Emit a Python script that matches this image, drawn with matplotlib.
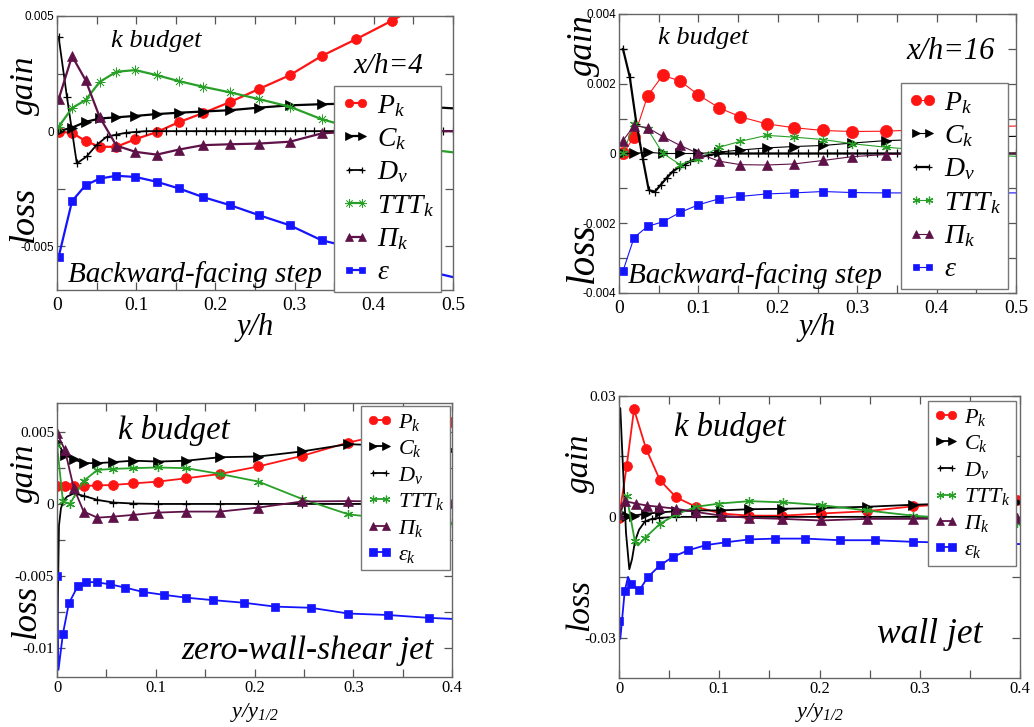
import matplotlib
matplotlib.use('Agg')
import matplotlib.pyplot as plt

plt.rcParams['font.family'] = 'Liberation Serif'
plt.rcParams['mathtext.fontset'] = 'custom'
# italic everywhere in math, so that Pi and the 1/2 come out slanted as in the original
plt.rcParams['mathtext.rm'] = 'Liberation Serif:italic'
plt.rcParams['mathtext.it'] = 'Liberation Serif:italic'
plt.rcParams['mathtext.bf'] = 'Liberation Serif:bold'

RED = '#ff1414'
GREEN = '#28a028'
PURPLE = '#5e1248'
BLUE = '#1414ff'
STAR = (6, 2, 0)

labels_top = ['$P_k$', '$C_k$', r'$D_\nu$', '$TTT_k$', r'$\Pi_k$', r'$\varepsilon$']
labels_bot = ['$P_k$', '$C_k$', r'$D_\nu$', '$TTT_k$', r'$\Pi_k$', r'$\varepsilon_k$']

# ---- backward-facing step, x/h=4
x1 = [0.002, 0.019, 0.036, 0.054, 0.075, 0.099, 0.126, 0.154, 0.184, 0.219, 0.255, 0.294, 0.334, 0.378, 0.423, 0.47, 0.52]
p1_pk = [-0.00003, -0.00007, -0.00043, -0.00068, -0.00068, -0.00035, -0.00004, 0.00039, 0.00078, 0.00127, 0.00183, 0.00243, 0.00326, 0.0040, 0.0048, 0.0057, 0.0066]
p1_ck = [0.0, 0.00015, 0.0004, 0.00055, 0.0006, 0.00066, 0.00074, 0.0008, 0.00085, 0.00091, 0.00102, 0.00112, 0.00117, 0.0012, 0.00115, 0.00105, 0.00095]
p1_ttt = [0.00019, 0.001, 0.00135, 0.00214, 0.00258, 0.00265, 0.00243, 0.00217, 0.00193, 0.00168, 0.00139, 0.00106, 0.00052, 0.0001, -0.0004, -0.0008, -0.001]
p1_pi = [0.00138, 0.00326, 0.00222, 0.0006, -0.00063, -0.0009, -0.00102, -0.0008, -0.00061, -0.00057, -0.00054, -0.00046, -0.0001, 0.0, 0.0, 0.0, 0.0]
p1_eps = [-0.00547, -0.00304, -0.00235, -0.00206, -0.00194, -0.00199, -0.0022, -0.00249, -0.00286, -0.00322, -0.00365, -0.00409, -0.00474, -0.0051, -0.0056, -0.0061, -0.0065]
x1_dv = [0.002, 0.0125, 0.025, 0.0375, 0.05, 0.0625, 0.075, 0.0875, 0.1, 0.1125, 0.125, 0.1375, 0.15, 0.1625,
         0.175, 0.1875, 0.2, 0.2125, 0.225, 0.2375, 0.25, 0.2625, 0.275, 0.2875, 0.3, 0.3125, 0.325, 0.3375,
         0.35, 0.3625, 0.375, 0.3875, 0.4, 0.4125, 0.425, 0.4375, 0.45, 0.4625, 0.475, 0.4875, 0.5]
p1_dv = [0.0041, 0.0015, -0.0014, -0.0011, -0.0006, -0.00025, -0.00015, -0.00007, -0.00003, 0.0, 0.0, 0.0, 0.0, 0.0,
         0.0, 0.0, 0.0, 0.0, 0.0, 0.0, 0.0, 0.0, 0.0, 0.0, 0.0, 0.0, 0.0, 0.0,
         0.0, 0.0, 0.0, 0.0, 0.0, 0.0, 0.0, 0.0, 0.0, 0.0, 0.0, 0.0, 0.0]

# ---- backward-facing step, x/h=16
x2 = [0.005, 0.019, 0.036, 0.055, 0.077, 0.1, 0.126, 0.153, 0.186, 0.22, 0.257, 0.294, 0.336, 0.38, 0.425, 0.47, 0.52]
p2_pk = [0.0, 0.00047, 0.00165, 0.00224, 0.00208, 0.00168, 0.00131, 0.00105, 0.00085, 0.00074, 0.00066, 0.00063, 0.00064, 0.00068, 0.00072, 0.00077, 0.0008]
p2_ck = [0.0, 0.0, 0.00004, 0.0, 0.0, 0.0, 0.00004, 0.0001, 0.00016, 0.0002, 0.00023, 0.0003, 0.00037, 0.0004, 0.00044, 0.00048, 0.0005]
p2_ttt = [0.0, 0.00085, 0.0007, 0.00001, -0.00032, -0.00015, 0.00018, 0.00035, 0.00052, 0.00047, 0.0004, 0.00028, 0.00018, 0.0001, 0.00003, -0.00005, -0.0001]
p2_pi = [0.00037, 0.0008, 0.00074, 0.00049, 0.00023, 0.0, -0.00022, -0.00032, -0.00033, -0.0003, -0.0002, -0.00009, -0.00003, 0.0, 0.0, 0.0, 0.0]
p2_eps = [-0.00337, -0.00241, -0.00209, -0.00196, -0.00169, -0.00147, -0.0013, -0.00123, -0.00116, -0.00113, -0.00109, -0.00112, -0.00113, -0.00113, -0.00113, -0.00113, -0.00113]
x2_dv = [0.005, 0.0135, 0.022, 0.03, 0.0375, 0.045, 0.0525, 0.06, 0.0675, 0.075, 0.0825, 0.09, 0.1, 0.1125,
         0.125, 0.1375, 0.15, 0.1625, 0.175, 0.1875, 0.2, 0.2125, 0.225, 0.2375, 0.25, 0.2625, 0.275, 0.2875,
         0.3, 0.3125, 0.325, 0.3375, 0.35, 0.3625, 0.375, 0.3875, 0.4, 0.4125, 0.425, 0.4375, 0.45, 0.4625,
         0.475, 0.4875, 0.5]
p2_dv = [0.003, 0.0022, 0.00085, -0.00015, -0.00105, -0.0011, -0.0009, -0.0007, -0.00052, -0.0004, -0.00032, -0.00022, -0.00012, -0.00005,
         0.0, 0.0, 0.0, 0.0, 0.0, 0.0, 0.0, 0.0, 0.0, 0.0, 0.0, 0.0, 0.0, 0.0,
         0.0, 0.0, 0.0, 0.0, 0.0, 0.0, 0.0, 0.0, 0.0, 0.0, 0.0, 0.0, 0.0, 0.0,
         0.0, 0.0, 0.0]

# ---- zero-wall-shear jet
x3 = [0.0, 0.008, 0.017, 0.027, 0.041, 0.057, 0.077, 0.102, 0.131, 0.165, 0.204, 0.248, 0.295, 0.345, 0.398]
p3_pk = [0.00125, 0.00125, 0.00125, 0.00125, 0.00128, 0.00132, 0.00142, 0.00155, 0.00178, 0.00208, 0.0026, 0.00333, 0.00426, 0.005, 0.00565]
p3_ck = [0.0043, 0.0034, 0.0031, 0.00283, 0.00283, 0.0029, 0.003, 0.00294, 0.003, 0.00324, 0.00329, 0.00364, 0.00415, 0.004, 0.00375]
p3_pi = [0.0049, 0.00375, 0.0011, -0.00053, -0.00095, -0.00088, -0.00076, -0.0006, -0.00053, -0.00053, -0.00025, 0.00017, 0.0002, 0.00015, 0.0001]
x3_ttt = [0.0, 0.006, 0.013, 0.027, 0.041, 0.057, 0.077, 0.102, 0.131, 0.165, 0.204, 0.248, 0.295, 0.345, 0.398]
p3_ttt = [0.0041, 0.00017, 0.0, 0.0016, 0.00236, 0.00243, 0.00248, 0.00253, 0.00248, 0.00208, 0.00155, 0.00035, -0.00072, -0.0011, -0.00129]
x3_dv = [0.0, 0.001, 0.002, 0.004, 0.0064, 0.01, 0.017, 0.027, 0.041, 0.057, 0.077, 0.102, 0.131, 0.165, 0.204, 0.248, 0.295, 0.345, 0.398]
p3_dv = [-0.0115, -0.006, -0.0015, -0.0003, 0.00017, 0.0005, 0.00074, 0.00056, 0.00028, 0.0001, 0.00003, 0.0, 0.0, 0.0, 0.0, 0.0, 0.0, 0.0, 0.0]
x3_eps = [0.0, 0.0015, 0.006, 0.012, 0.021, 0.029, 0.041, 0.054, 0.069, 0.087, 0.108, 0.131, 0.158, 0.189, 0.221, 0.257, 0.295, 0.335, 0.377, 0.41]
p3_eps = [-0.005, -0.0115, -0.009, -0.0069, -0.0057, -0.0054, -0.00544, -0.00558, -0.0058, -0.0061, -0.0063, -0.0065, -0.00667, -0.00685, -0.00712, -0.0072, -0.0076, -0.0077, -0.0079, -0.008]

# ---- wall jet
x4 = [0.0, 0.0077, 0.015, 0.027, 0.041, 0.057, 0.077, 0.102, 0.13, 0.163, 0.201, 0.247, 0.293, 0.345, 0.397]
p4_pk = [-0.00025, 0.0127, 0.0267, 0.0169, 0.00905, 0.00485, 0.00247, 0.00082, 0.0003, 0.0003, 0.00082, 0.0014, 0.0026, 0.0034, 0.0041]
p4_ck = [0.0, 0.00015, 0.0003, 0.0008, 0.0011, 0.0014, 0.0016, 0.0016, 0.0019, 0.002, 0.0022, 0.0025, 0.003, 0.0034, 0.0037]
x4_pi = [0.0, 0.006, 0.017, 0.028, 0.04, 0.057, 0.077, 0.102, 0.13, 0.163, 0.201, 0.247, 0.293, 0.345, 0.397]
p4_pi = [0.0006, 0.0039, 0.0033, 0.0028, 0.0025, 0.002, 0.0012, 0.0003, -0.00025, -0.0005, -0.0009, -0.0005, -0.0005, -0.0004, -0.00025]
x4_ttt = [0.0, 0.0077, 0.0157, 0.019, 0.026, 0.041, 0.057, 0.077, 0.1, 0.13, 0.164, 0.202, 0.247, 0.293, 0.345, 0.397]
p4_ttt = [0.0, 0.0051, -0.0059, -0.0071, -0.0052, -0.0017, 0.0006, 0.0025, 0.0033, 0.0039, 0.0036, 0.0029, 0.0016, 0.0003, -0.0006, -0.0015]
x4_dv = [0.0, 0.0013, 0.004, 0.007, 0.0103, 0.013, 0.016, 0.02, 0.026, 0.033, 0.04, 0.057, 0.077, 0.102, 0.13, 0.163, 0.201, 0.247, 0.293, 0.345, 0.397]
p4_dv = [0.024, 0.027, 0.012, -0.004, -0.013, -0.0105, -0.006, -0.0032, -0.0011, -0.0005, -0.00025, 0.0, 0.0, 0.0, 0.0, 0.0, 0.0, 0.0, 0.0, 0.0, 0.0]
x4_eps = [0.0, 0.0013, 0.0057, 0.009, 0.0123, 0.0203, 0.029, 0.041, 0.054, 0.069, 0.087, 0.107, 0.13, 0.156, 0.186, 0.22, 0.255, 0.293, 0.345, 0.41]
p4_eps = [-0.0258, -0.0303, -0.0184, -0.0149, -0.0167, -0.0182, -0.0149, -0.012, -0.0099, -0.0083, -0.007, -0.0063, -0.0056, -0.0054, -0.0054, -0.0058, -0.0058, -0.0062, -0.0065, -0.0068]

xt_top = [0, 0.1, 0.2, 0.3, 0.4, 0.5]
xt_top_lab = ['0', '0.1', '0.2', '0.3', '0.4', '0.5']
xt_bot = [0, 0.1, 0.2, 0.3, 0.4]
xt_bot_lab = ['0', '0.1', '0.2', '0.3', '0.4']
yt1 = [-0.005, 0, 0.005]
yt1_lab = ['-0.005', '0', '0.005']
yt2 = [-0.004, -0.002, 0, 0.002, 0.004]
yt2_lab = ['-0.004', '-0.002', '0', '0.002', '0.004']
yt3 = [-0.01, -0.005, 0, 0.005]
yt3_lab = ['-0.01', '-0.005', '0', '0.005']
yt4 = [-0.03, 0, 0.03]
yt4_lab = ['-0.03', '0', '0.03']

fig = plt.figure(figsize=(10.34, 7.27), dpi=100)
W, H = 1034.0, 727.0


def axes_px(l, t, r, b):
    return fig.add_axes([l / W, 1 - b / H, (r - l) / W, (b - t) / H])


def draw(ax, series, labels, lw, ms):
    hs = []
    for (x, y, col, mk, every, lwk, msk), lab in zip(series, labels):
        mew = 0.9 if mk in ('+', STAR) else 0.5
        h, = ax.plot(x, y, color=col, marker=mk, lw=lw * lwk, ms=ms * msk, mew=mew,
                     markevery=every, mec=col, mfc=col, label=lab)
        hs.append(h)
    return hs


def style(ax, xlim, ylim, xt, xtl, yt, ytl, xminor, yminor, xfs, yfs, yfam, xpad):
    ax.set_xlim(*xlim)
    ax.set_ylim(*ylim)
    ax.set_xticks(xt, labels=xtl)
    ax.set_yticks(yt, labels=ytl)
    ax.xaxis.set_minor_locator(matplotlib.ticker.MultipleLocator(xminor))
    ax.yaxis.set_minor_locator(matplotlib.ticker.MultipleLocator(yminor))
    ax.tick_params(which='both', direction='in', top=True, right=True, color='#555555')
    ax.tick_params(which='both', length=6, width=0.9)
    ax.tick_params(axis='x', labelsize=xfs, pad=xpad)
    ax.tick_params(axis='y', labelsize=yfs, pad=2, labelfontfamily=yfam)
    for s in ax.spines.values():
        s.set_color('#666666')
        s.set_linewidth(1.0)


def legend(ax, hs, labels, anchor, fs, spacing, hl):
    lg = ax.legend(hs, labels, loc='upper left', bbox_to_anchor=anchor, numpoints=2, fontsize=fs,
                   frameon=True, fancybox=False, framealpha=1, edgecolor='#777777',
                   handlelength=hl, handletextpad=0.25, labelspacing=spacing, borderpad=0.25,
                   borderaxespad=0, markerscale=0.85)
    lg.get_frame().set_linewidth(1.0)
    lg.set_zorder(10)


def label(x, y, s, fs, rot=0):
    fig.text(x / W, 1 - y / H, s, rotation=rot, fontsize=fs, style='italic', ha='center', va='center')


# panel 1
ax1 = axes_px(57, 16, 453, 290)
s1 = [(x1, p1_pk, RED, 'o', None, 1, 1.1), (x1, p1_ck, 'black', '>', None, 1, 1.0),
      (x1_dv, p1_dv, 'black', '+', None, 0.8, 0.9), (x1, p1_ttt, GREEN, (8, 2, 0), None, 1, 1.1),
      (x1, p1_pi, PURPLE, '^', None, 1, 1.0), (x1, p1_eps, BLUE, 's', None, 1, 0.9)]
h1 = draw(ax1, s1, labels_top, 1.6, 6.5)
style(ax1, (0, 0.5), (-0.0069, 0.005), xt_top, xt_top_lab, yt1, yt1_lab, 0.05, 0.0025, 14, 8.5, 'Liberation Sans', 5)
legend(ax1, h1, labels_top, (0.70, 0.745), 20, 0.27, 1.05)
ax1.text(0.25, 0.91, 'k budget', transform=ax1.transAxes, fontsize=19, style='italic', ha='center', va='center')
ax1.text(0.836, 0.818, 'x/h=4', transform=ax1.transAxes, fontsize=21, style='italic', ha='center', va='center')
ax1.text(0.348, 0.055, 'Backward-facing step', transform=ax1.transAxes, fontsize=21, style='italic', ha='center', va='center')
label(25, 85, 'gain', 24, 90)
label(25, 215, 'loss', 26, 90)
label(255, 328, 'y/h', 22)

# panel 2
ax2 = axes_px(619, 14, 1016, 293)
s2 = [(x2, p2_pk, RED, 'o', None, 1, 1.35), (x2, p2_ck, 'black', '>', None, 1, 1.0),
      (x2_dv, p2_dv, 'black', '+', None, 2.0, 0.8), (x2, p2_ttt, GREEN, STAR, None, 1, 1.0),
      (x2, p2_pi, PURPLE, '^', None, 1, 1.0), (x2, p2_eps, BLUE, 's', None, 1, 0.8)]
h2 = draw(ax2, s2, labels_top, 0.8, 6.5)
style(ax2, (0, 0.5), (-0.004, 0.004), xt_top, xt_top_lab, yt2, yt2_lab, 0.05, 0.001, 14, 8.5, 'Liberation Sans', 5)
legend(ax2, h2, labels_top, (0.71, 0.753), 20, 0.27, 1.05)
ax2.text(0.212, 0.914, 'k budget', transform=ax2.transAxes, fontsize=19, style='italic', ha='center', va='center')
ax2.text(0.836, 0.864, 'x/h=16', transform=ax2.transAxes, fontsize=22, style='italic', ha='center', va='center')
ax2.text(0.343, 0.061, 'Backward-facing step', transform=ax2.transAxes, fontsize=21, style='italic', ha='center', va='center')
label(583, 45, 'gain', 25, 90)
label(583, 253, 'loss', 28, 90)
label(817, 328, 'y/h', 22)

# panel 3
ax3 = axes_px(57, 403, 452, 677)
s3 = [(x3, p3_pk, RED, 'o', None, 1, 1.1), (x3, p3_ck, 'black', '>', None, 1, 1.0),
      (x3_dv, p3_dv, 'black', '+', list(range(6, 19)), 1, 0.9), (x3_ttt, p3_ttt, GREEN, STAR, None, 1, 1.0),
      (x3, p3_pi, PURPLE, '^', None, 1, 1.0), (x3_eps, p3_eps, BLUE, 's', [0] + list(range(2, 19)), 1, 0.95)]
h3 = draw(ax3, s3, labels_bot, 1.3, 6.5)
style(ax3, (0, 0.4), (-0.012, 0.007), xt_bot, xt_bot_lab, yt3, yt3_lab, 0.05, 0.0025, 12, 11, 'Liberation Serif', 2)
legend(ax3, h3, labels_bot, (0.77, 0.989), 16, 0.25, 1.15)
ax3.text(0.296, 0.9, 'k budget', transform=ax3.transAxes, fontsize=23.5, style='italic', ha='center', va='center')
ax3.text(0.633, 0.095, 'zero-wall-shear jet', transform=ax3.transAxes, fontsize=24, style='italic', ha='center', va='center')
label(25, 473, 'gain', 24, 90)
label(27, 612, 'loss', 25, 90)
fig.text(255 / W, 1 - 713 / H, '$y/y_{1/2}$', fontsize=16, ha='center', va='center')

# panel 4
ax4 = axes_px(619, 396, 1020, 678)
s4 = [(x4, p4_pk, RED, 'o', None, 1, 1.1), (x4, p4_ck, 'black', '>', None, 1, 1.0),
      (x4_dv, p4_dv, 'black', '+', list(range(8, 21)), 1, 0.9), (x4_ttt, p4_ttt, GREEN, STAR, [0, 1, 2] + list(range(4, 16)), 1, 1.0),
      (x4_pi, p4_pi, PURPLE, '^', None, 1, 1.0), (x4_eps, p4_eps, BLUE, 's', [0, 2, 4] + list(range(5, 20)), 1, 0.95)]
h4 = draw(ax4, s4, labels_bot, 1.3, 6.5)
style(ax4, (0, 0.4), (-0.04, 0.03), xt_bot, xt_bot_lab, yt4, yt4_lab, 0.05, 0.015, 12, 11, 'Liberation Serif', 2)
legend(ax4, h4, labels_bot, (0.77, 0.982), 16, 0.25, 1.15)
ax4.text(0.277, 0.887, 'k budget', transform=ax4.transAxes, fontsize=23.5, style='italic', ha='center', va='center')
ax4.text(0.776, 0.156, 'wall jet', transform=ax4.transAxes, fontsize=25.5, style='italic', ha='center', va='center')
label(580, 463, 'gain', 24, 90)
label(580, 605, 'loss', 24, 90)
fig.text(820 / W, 1 - 713 / H, '$y/y_{1/2}$', fontsize=16, ha='center', va='center')

fig.savefig('out.png', dpi=100)
